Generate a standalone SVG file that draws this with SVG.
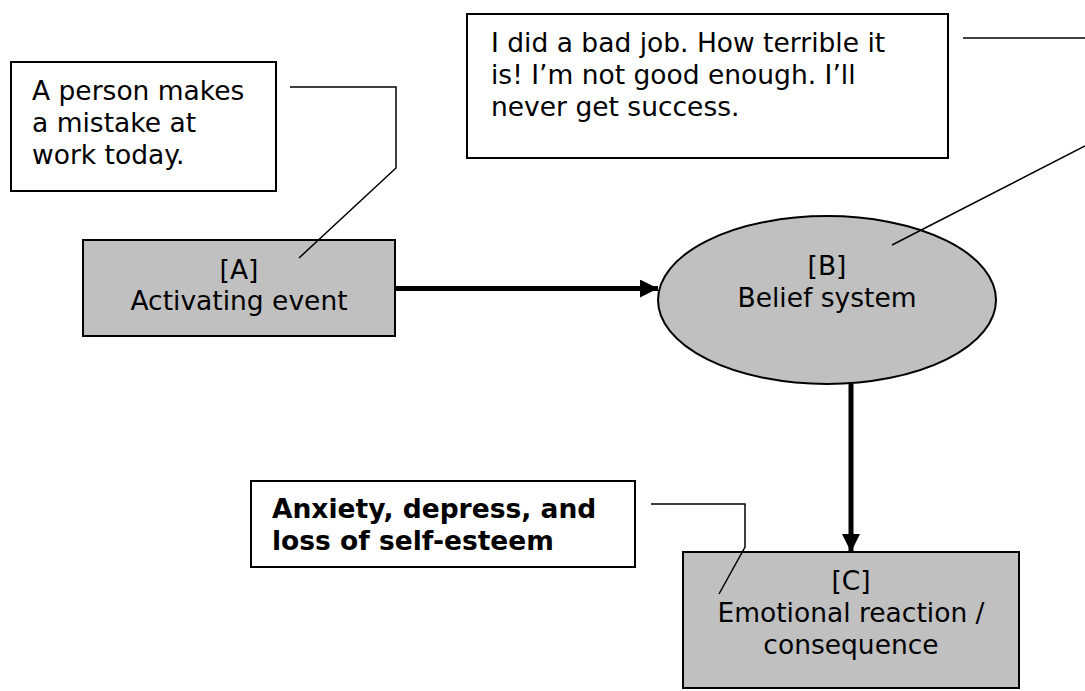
<svg xmlns="http://www.w3.org/2000/svg" width="1085" height="691" viewBox="0 0 1085 691">
<style>
  .box { stroke: #000; stroke-width: 2; }
  .note { fill: #fff; }
  .shape { fill: #c0c0c0; }
  .t { font-family: "DejaVu Sans", Verdana, sans-serif; font-size: 26.5px; fill: #000; }
  .c { text-anchor: middle; }
  .b { font-weight: bold; }
  .callout { fill: none; stroke: #000; stroke-width: 1.5; }
  .flow { fill: none; stroke: #000; stroke-width: 5; }
</style>
<defs>
  <marker id="arrow" markerUnits="userSpaceOnUse" markerWidth="20" markerHeight="18" refX="18" refY="9" orient="auto">
    <polygon points="0,0 18,9 0,18" fill="#000"/>
  </marker>
</defs>
<rect width="1085" height="691" fill="#fff"/>

<g id="note-event">
  <rect class="box note" x="11" y="62" width="265" height="129"/>
  <text class="t" x="32" y="100">A person makes</text>
  <text class="t" x="32" y="132">a mistake at</text>
  <text class="t" x="32" y="164">work today.</text>
</g>

<g id="node-a">
  <rect class="box shape" x="83" y="240" width="312" height="96"/>
  <text class="t c" x="239" y="279">[A]</text>
  <text class="t c" x="239" y="310">Activating event</text>
</g>

<g id="note-belief">
  <rect class="box note" x="467" y="14" width="481" height="144"/>
  <text class="t" x="491" y="52">I did a bad job. How terrible it</text>
  <text class="t" x="491" y="84">is! I’m not good enough. I’ll</text>
  <text class="t" x="491" y="116">never get success.</text>
</g>

<g id="node-b">
  <ellipse class="box shape" cx="827" cy="300" rx="169" ry="84"/>
  <text class="t c" x="827" y="275">[B]</text>
  <text class="t c" x="827" y="307">Belief system</text>
</g>

<g id="note-consequence">
  <rect class="box note" x="251" y="481" width="384" height="86"/>
  <text class="t b" x="272" y="518">Anxiety, depress, and</text>
  <text class="t b" x="272" y="550">loss of self-esteem</text>
</g>

<g id="node-c">
  <rect class="box shape" x="683" y="552" width="336" height="136"/>
  <text class="t c" x="851" y="590">[C]</text>
  <text class="t c" x="851" y="622">Emotional reaction /</text>
  <text class="t c" x="851" y="654">consequence</text>
</g>

<g id="connectors">
  <polyline class="callout" points="290,87 396,87 396,168 299,258"/>
  <polyline class="callout" points="963,38 1085,38"/>
  <polyline class="callout" points="1085,146 892,245"/>
  <polyline class="callout" points="651,504 745,504 745,547 719,594"/>
  <line class="flow" x1="396" y1="288.5" x2="658" y2="288.5" marker-end="url(#arrow)"/>
  <line class="flow" x1="851" y1="384" x2="851" y2="552" marker-end="url(#arrow)"/>
</g>
</svg>
